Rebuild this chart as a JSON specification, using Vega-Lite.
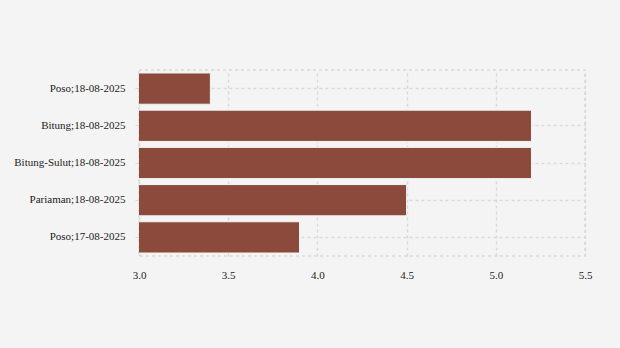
{
  "$schema": "https://vega.github.io/schema/vega-lite/v6.json",
  "width": 446,
  "height": 186,
  "autosize": {"type": "none"},
  "padding": {"left": 139, "top": 70, "right": 35, "bottom": 92},
  "background": "#f4f4f4",
  "config": {
    "font": "Liberation Serif",
    "view": {"stroke": "#d9d9d9", "strokeDash": [3, 3], "strokeWidth": 1.5},
    "axis": {
      "labelFont": "Liberation Serif",
      "labelFontSize": 11,
      "labelColor": "#222",
      "gridColor": "#d9d9d9",
      "gridDash": [3, 3],
      "gridWidth": 1.5,
      "domain": false
    }
  },
  "data": {
    "values": [
      {"label": "Poso;18-08-2025", "value": 3.4},
      {"label": "Bitung;18-08-2025", "value": 5.2},
      {"label": "Bitung-Sulut;18-08-2025", "value": 5.2},
      {"label": "Pariaman;18-08-2025", "value": 4.5},
      {"label": "Poso;17-08-2025", "value": 3.9}
    ]
  },
  "mark": {"type": "bar", "color": "#8c4a3c", "stroke": "#f4f4f4", "strokeWidth": 1, "clip": true},
  "encoding": {
    "y": {
      "field": "label",
      "type": "nominal",
      "sort": null,
      "title": null,
      "scale": {"paddingInner": 0.16, "paddingOuter": 0.08},
      "axis": {"grid": true, "bandPosition": -0.095, "ticks": true, "tickSize": 4, "tickColor": "#d9d9d9", "tickBand": "center", "labelPadding": 10}
    },
    "x": {
      "field": "value",
      "type": "quantitative",
      "title": null,
      "scale": {"domain": [3, 5.5], "zero": false, "nice": false},
      "axis": {"values": [3, 3.5, 4, 4.5, 5, 5.5], "format": ".1f", "ticks": false, "labelPadding": 13, "grid": true, "labelFlush": false}
    }
  }
}
